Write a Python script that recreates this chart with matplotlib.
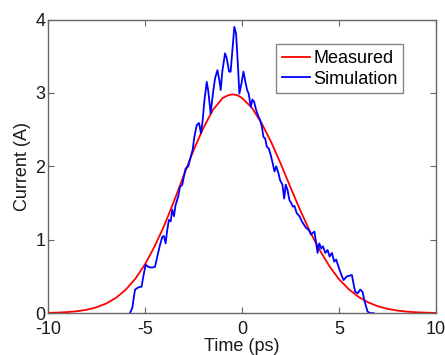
import matplotlib
matplotlib.use("Agg")
import matplotlib.pyplot as plt

plt.rcParams['font.family'] = ['Liberation Sans', 'DejaVu Sans']

# Measured (red) curve
meas_t = [-10, -9.5, -9, -8.5, -8, -7.5, -7, -6.5, -6, -5.5, -5, -4.5, -4, -3.5,
          -3, -2.5, -2, -1.5, -1, -0.75, -0.5, -0.25, 0, 0.5, 1, 1.5, 2, 2.5, 3, 3.5,
          4, 4.5, 5, 5.5, 6, 6.5, 7, 7.5, 8, 8.5, 9, 9.5, 10]
meas_i = [0.004, 0.007, 0.014, 0.026, 0.046, 0.080, 0.131, 0.208, 0.318, 0.469,
          0.666, 0.913, 1.20, 1.53, 1.88, 2.22, 2.52, 2.77, 2.93, 2.965, 2.98, 2.97,
          2.93, 2.80, 2.59, 2.33, 2.03, 1.71, 1.40, 1.11, 0.86, 0.64, 0.46, 0.325,
          0.221, 0.146, 0.093, 0.058, 0.035, 0.020, 0.011, 0.006, 0.003]

# Simulation (blue) curve
sim_t = [-5.78, -5.66, -5.52, -5.35, -5.18, -5.09, -4.97, -4.84, -4.66, -4.49, -4.37,
         -4.23, -4.11, -4.03, -3.94, -3.86, -3.77, -3.68, -3.60, -3.51, -3.43, -3.29,
         -3.20, -3.08, -3.00, -2.91, -2.77, -2.65, -2.55, -2.46, -2.34, -2.22, -2.12,
         -2.03, -1.94, -1.82, -1.74, -1.62, -1.48, -1.39, -1.27, -1.17, -1.10, -1.02,
         -0.88, -0.79, -0.67, -0.59, -0.50, -0.40, -0.31, -0.21, -0.14, -0.03, 0.07,
         0.17, 0.26, 0.34, 0.45, 0.53, 0.62, 0.72, 0.84, 0.93, 1.02, 1.10, 1.19, 1.27,
         1.38, 1.48, 1.58, 1.67, 1.76, 1.88, 1.96, 2.08, 2.17, 2.25, 2.34, 2.44, 2.53,
         2.62, 2.70, 2.82, 2.96, 3.08, 3.20, 3.30, 3.42, 3.55, 3.63, 3.73, 3.82, 3.89,
         3.98, 4.08, 4.17, 4.29, 4.41, 4.51, 4.63, 4.75, 4.85, 4.97, 5.09, 5.23, 5.40,
         5.54, 5.66, 5.75, 5.83, 5.96, 6.09, 6.21, 6.30, 6.39, 6.47, 6.61, 6.78]
sim_i = [0.0, 0.07, 0.32, 0.35, 0.36, 0.50, 0.66, 0.63, 0.62, 0.63, 0.77,
         0.93, 1.04, 1.05, 0.95, 1.13, 1.27, 1.25, 1.41, 1.32, 1.47, 1.59,
         1.72, 1.75, 1.86, 1.97, 2.00, 2.13, 2.22, 2.40, 2.56, 2.59, 2.45,
         2.63, 2.90, 3.15, 3.02, 2.72, 3.04, 3.20, 3.31, 3.17, 3.04, 3.29,
         3.54, 3.47, 3.29, 3.29, 3.58, 3.90, 3.81, 3.36, 2.99, 3.13, 3.29,
         3.15, 3.04, 2.99, 2.81, 2.91, 2.88, 2.77, 2.68, 2.63, 2.54, 2.40, 2.38, 2.27,
         2.24, 2.15, 2.04, 1.93, 2.00, 1.90, 1.81, 1.75, 1.56, 1.75, 1.68, 1.54, 1.50,
         1.45, 1.46, 1.36, 1.32, 1.25, 1.20, 1.16, 1.14, 1.07, 1.09, 1.11, 0.95, 0.82,
         0.95, 0.88, 0.91, 0.82, 0.86, 0.77, 0.82, 0.70, 0.73, 0.63, 0.54, 0.45, 0.50,
         0.51, 0.52, 0.39, 0.29, 0.27, 0.32, 0.29, 0.18, 0.09, 0.02, 0.0, 0.0]

x_ticks = [-10, -5, 0, 5, 10]
y_ticks = [0, 1, 2, 3, 4]

fig = plt.figure(figsize=(4.45, 3.55), dpi=100)
ax = fig.add_axes([0.108, 0.118, 0.872, 0.827])

ax.plot(meas_t, meas_i, color='#ff0000', lw=1.3, label='Measured')
ax.plot(sim_t, sim_i, color='#0000ff', lw=1.3, label='Simulation')

ax.set_xlim(-10, 10)
ax.set_ylim(0, 4)
ax.set_xticks(x_ticks)
ax.set_yticks(y_ticks)
ax.set_xticklabels([str(v) for v in x_ticks])
ax.set_yticklabels([str(v) for v in y_ticks])

for s in ax.spines.values():
    s.set_color('#666666')
    s.set_linewidth(1.0)
ax.tick_params(direction='in', length=4, width=0.8, color='#666666',
               top=True, right=True, labelsize=13, pad=2, labelcolor='#1a1a1a')
ax.tick_params(axis='x', pad=6)

ax.set_xlabel('Time (ps)', fontsize=13, color='#1a1a1a', labelpad=0)
ax.set_ylabel('Current (A)', fontsize=13, color='#1a1a1a', labelpad=3)

leg = ax.legend(loc='upper right', bbox_to_anchor=(0.915, 0.915), fontsize=13,
                frameon=True, fancybox=False, borderpad=0.3, handlelength=1.55,
                handletextpad=0.2, labelspacing=0.2, borderaxespad=0)
leg.get_frame().set_edgecolor('#666666')
leg.get_frame().set_linewidth(1.0)

fig.savefig('out.png', dpi=100)
